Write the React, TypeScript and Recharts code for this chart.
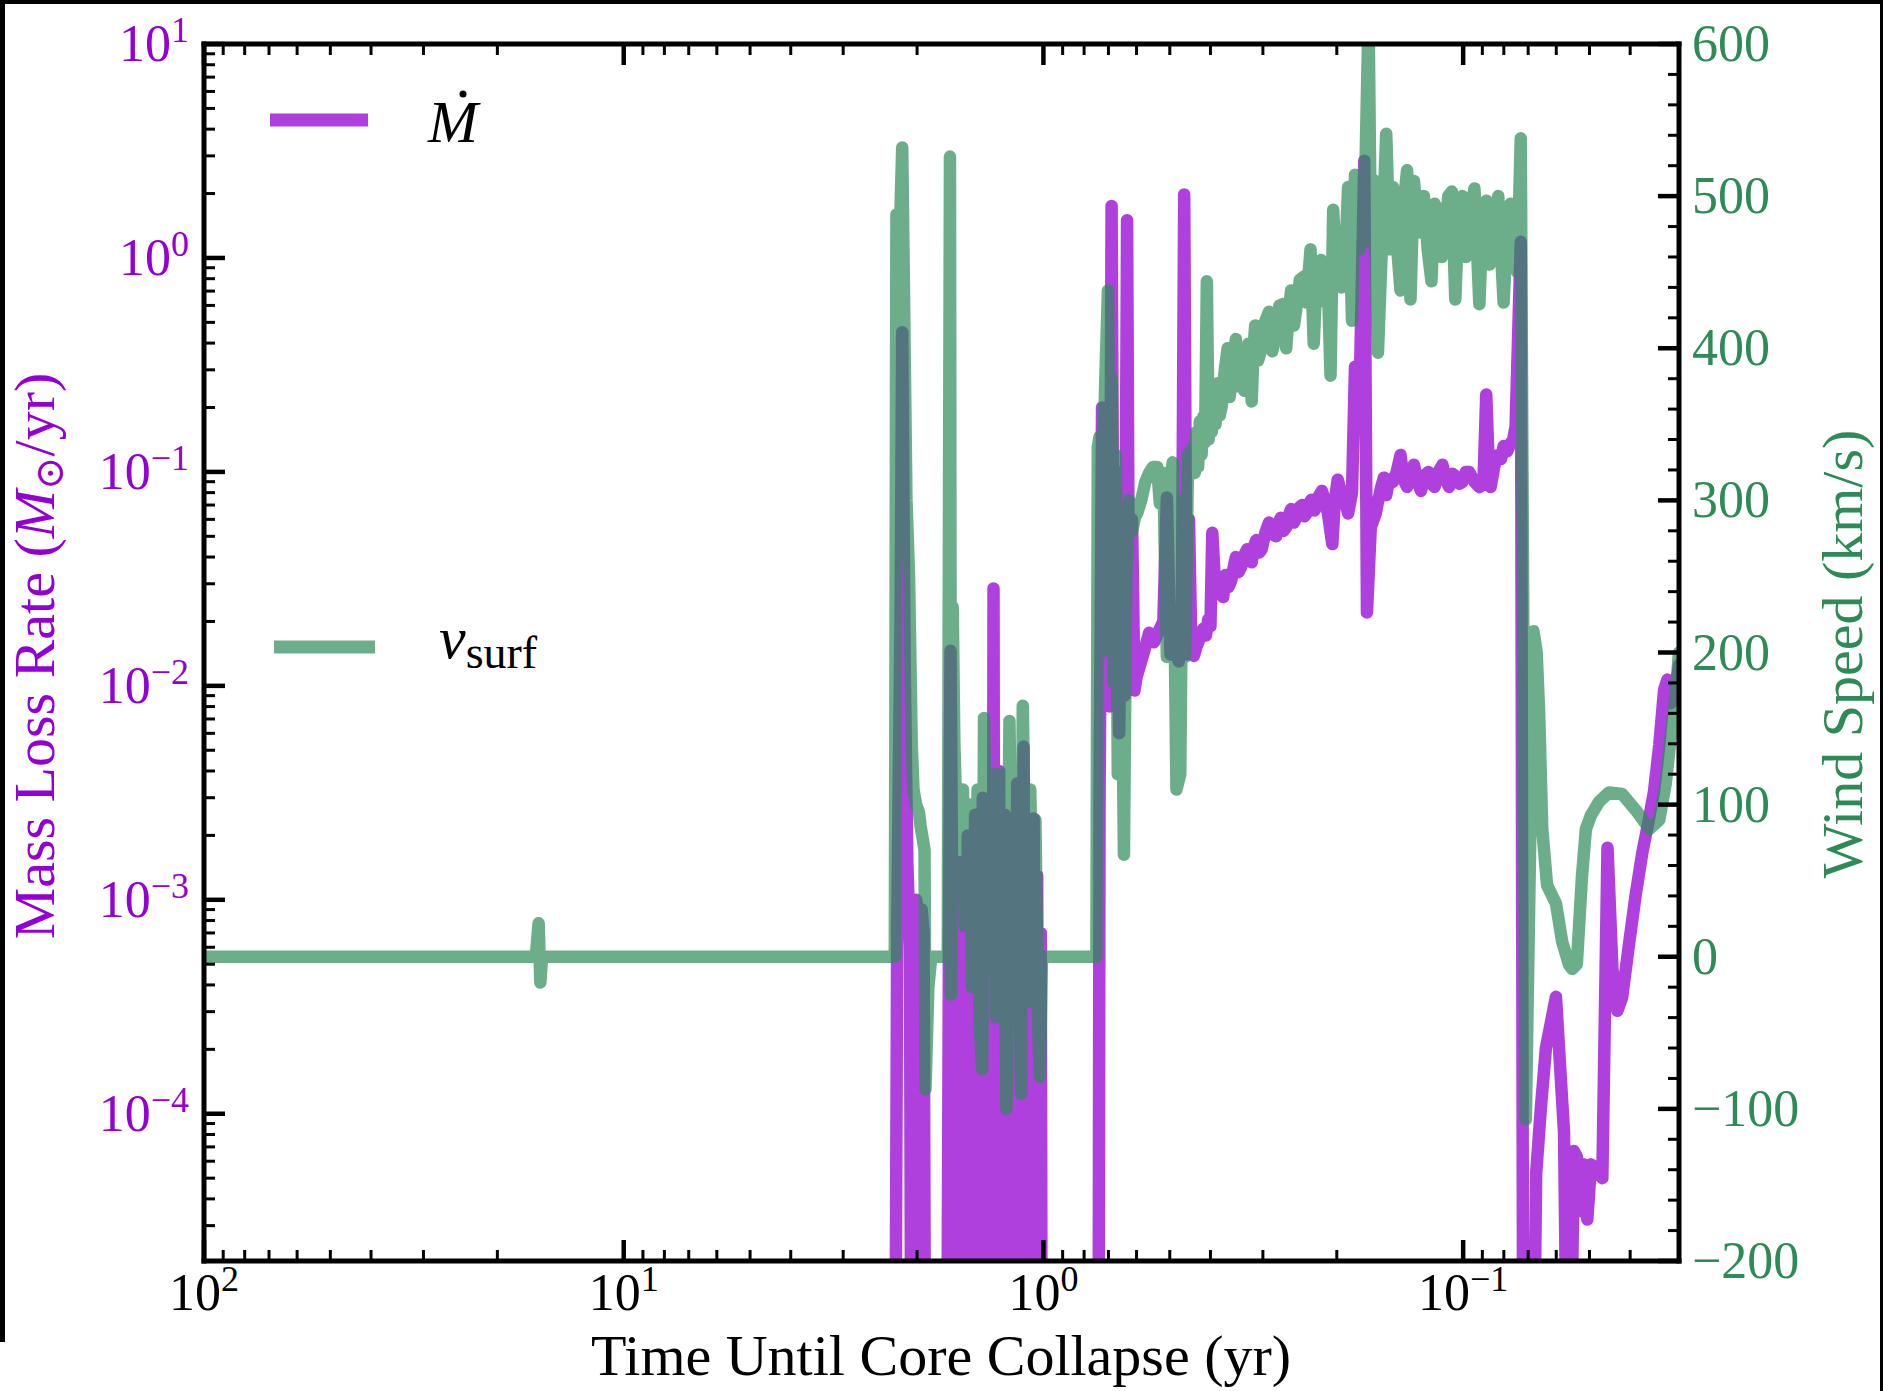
import React from 'react';
import { LineChart, Line, XAxis, YAxis } from 'recharts';

// [time until collapse (yr), wind speed (km/s)]
const windPoints: [number, number][] = [
  [100, 0], [16.2, 0], [15.95, 22], [15.8, -17], [15.65, 0],
  [2.26, 0], [2.24, 488], [2.2, 470], [2.17, 532], [2.12, 300], [2.09, 250], [2.06, 140], [2.04, 110],
  [2.01, 100], [1.98, 95], [1.96, 85], [1.94, 78], [1.92, 70], [1.91, -87], [1.88, -20], [1.85, 0],
  [1.69, 0], [1.67, 526], [1.66, -25], [1.645, 230], [1.63, 140], [1.615, 100], [1.6, 85], [1.585, 70], [1.57, 60],
  [1.555, 110], [1.54, 20], [1.525, 100], [1.51, 40], [1.495, 100], [1.48, -20], [1.465, 80], [1.45, 30],
  [1.435, 110], [1.42, -40], [1.4, -74], [1.385, 157], [1.37, 60], [1.355, -10], [1.34, 90], [1.325, 20],
  [1.31, 120], [1.295, -40], [1.28, 80], [1.27, 120], [1.255, 30], [1.24, 70], [1.225, -100], [1.205, 155],
  [1.19, 40], [1.175, -20], [1.16, 90], [1.145, 10], [1.13, -90], [1.12, 165], [1.105, 60], [1.09, -30],
  [1.075, 110], [1.06, 20], [1.045, 90], [1.03, -40], [1.02, -79], [1.008, 0],
  [0.748, 0], [0.742, 335], [0.735, 342], [0.728, 200], [0.72, 330], [0.712, 380], [0.702, 438], [0.695, 250],
  [0.688, 380], [0.68, 180], [0.672, 330], [0.665, 120], [0.655, 290], [0.643, 67], [0.635, 250], [0.625, 300],
  [0.615, 280], [0.605, 289], [0.597, 292], [0.585, 300], [0.572, 312], [0.56, 318], [0.548, 322], [0.536, 322],
  [0.528, 298], [0.518, 318], [0.508, 197], [0.5, 310], [0.492, 325], [0.482, 110], [0.472, 120], [0.466, 300],
  [0.46, 197], [0.452, 330], [0.44, 335], [0.436, 318], [0.432, 345], [0.428, 322], [0.424, 352], [0.42, 330],
  [0.416, 355], [0.412, 338], [0.408, 444], [0.404, 340], [0.401, 365], [0.397, 345], [0.393, 372], [0.389, 350],
  [0.385, 377], [0.38, 356], [0.376, 362], [0.37, 385], [0.364, 400], [0.36, 368], [0.357, 378], [0.352, 392],
  [0.348, 406], [0.343, 375], [0.338, 390], [0.332, 372], [0.325, 403], [0.322, 385], [0.319, 365], [0.316, 398],
  [0.313, 415], [0.308, 392], [0.302, 400], [0.296, 418], [0.29, 424], [0.285, 398], [0.279, 410], [0.274, 428],
  [0.269, 429], [0.264, 400], [0.26, 425], [0.257, 438], [0.253, 415], [0.25, 425], [0.245, 445], [0.24, 447],
  [0.236, 430], [0.233, 452], [0.231, 465], [0.227, 403], [0.224, 440], [0.221, 441], [0.218, 458], [0.215, 453],
  [0.212, 430], [0.21, 442], [0.207, 382], [0.204, 491], [0.201, 455], [0.199, 462], [0.195, 440], [0.191, 458],
  [0.188, 506], [0.186, 470], [0.184, 418], [0.181, 514], [0.178, 480], [0.176, 465], [0.174, 495], [0.172, 482],
  [0.168, 620], [0.166, 470], [0.164, 511], [0.162, 470], [0.1596, 397], [0.157, 450], [0.1553, 482], [0.1525, 541],
  [0.1496, 465], [0.148, 490], [0.147, 506], [0.144, 470], [0.141, 438], [0.138, 500], [0.136, 517], [0.1335, 432],
  [0.131, 510], [0.128, 480], [0.126, 476], [0.124, 500], [0.1215, 465], [0.119, 444], [0.117, 495], [0.1148, 491],
  [0.1125, 460], [0.1106, 474], [0.1085, 500], [0.1064, 503], [0.1044, 432], [0.1025, 490], [0.1005, 500],
  [0.0985, 460], [0.0968, 482], [0.094, 505], [0.0915, 429], [0.09, 480], [0.0881, 497], [0.0865, 455],
  [0.0848, 470], [0.0825, 500], [0.0801, 430], [0.0785, 480], [0.0771, 495], [0.0757, 470], [0.0743, 450],
  [0.0729, 538], [0.0709, -107],
  [0.068, 214], [0.0668, 200], [0.0659, 160], [0.0648, 84], [0.0631, 47], [0.0601, 35], [0.0581, 10],
  [0.056, -5], [0.055, -8], [0.0536, -5], [0.0521, 53], [0.051, 84], [0.0496, 93], [0.0474, 102], [0.0449, 108],
  [0.0418, 107], [0.0387, 96], [0.036, 84], [0.0341, 90], [0.0329, 114], [0.032, 145], [0.0311, 175], [0.0306, 200],
];

// [time until collapse (yr), mass loss rate (Msun/yr)]; 1e-6 = below the plotted range
const mdotPoints: [number, number][] = [
  [100, 1e-6], [2.26, 1e-6], [2.23, 0.0008], [2.19, 0.02], [2.17, 0.45], [2.14, 0.012], [2.11, 0.0015],
  [2.08, 0.0006], [2.06, 1e-6], [2.03, 1e-6], [2.01, 0.001], [1.98, 0.0008], [1.95, 0.0009], [1.93, 0.0007],
  [1.91, 1e-6], [1.7, 1e-6], [1.68, 0.0005], [1.665, 0.0146], [1.65, 0.0012], [1.63, 0.0008], [1.61, 1e-6],
  [1.59, 1e-6], [1.575, 0.0015], [1.56, 1e-6], [1.545, 0.0009], [1.53, 1e-6], [1.515, 0.002], [1.5, 1e-6],
  [1.485, 0.0012], [1.47, 1e-6], [1.455, 0.0025], [1.44, 1e-6], [1.425, 0.0008], [1.41, 1e-6], [1.395, 0.003],
  [1.38, 1e-6], [1.365, 0.0018], [1.35, 1e-6], [1.335, 0.0009], [1.325, 1e-6], [1.315, 0.0285], [1.305, 1e-6],
  [1.295, 0.002], [1.285, 1e-6], [1.275, 0.004], [1.265, 1e-6], [1.255, 0.0012], [1.245, 1e-6], [1.235, 0.0025],
  [1.225, 1e-6], [1.215, 0.0008], [1.205, 1e-6], [1.195, 0.0022], [1.185, 1e-6], [1.175, 0.0011], [1.165, 1e-6],
  [1.155, 0.0035], [1.145, 1e-6], [1.135, 0.0015], [1.125, 1e-6], [1.115, 0.0052], [1.105, 1e-6], [1.095, 0.0018],
  [1.085, 1e-6], [1.075, 0.0009], [1.065, 1e-6], [1.055, 0.0024], [1.045, 1e-6], [1.035, 0.0013], [1.025, 1e-6],
  [1.015, 0.0007], [1.008, 1e-6],
  [0.74, 1e-6], [0.735, 0.003], [0.725, 0.2], [0.715, 0.02], [0.705, 0.15], [0.695, 0.008], [0.688, 1.75],
  [0.68, 0.012], [0.67, 0.1], [0.66, 0.006], [0.65, 0.05], [0.64, 0.009], [0.632, 1.5], [0.625, 0.012],
  [0.615, 0.06], [0.607, 0.0095], [0.6, 0.011], [0.59, 0.0123], [0.575, 0.0146], [0.56, 0.0177], [0.545, 0.016],
  [0.53, 0.0182], [0.518, 0.02], [0.508, 0.076], [0.498, 0.014], [0.488, 0.016], [0.476, 0.013], [0.468, 0.02],
  [0.462, 1.98], [0.456, 0.014], [0.45, 0.06], [0.444, 0.0146], [0.438, 0.0138], [0.432, 0.0152], [0.425, 0.0165],
  [0.416, 0.0185], [0.41, 0.0172], [0.405, 0.0204], [0.4, 0.019], [0.396, 0.052], [0.389, 0.027], [0.384, 0.031],
  [0.378, 0.03], [0.373, 0.026], [0.368, 0.033], [0.362, 0.029], [0.357, 0.031], [0.352, 0.036], [0.348, 0.04],
  [0.343, 0.034], [0.338, 0.036], [0.332, 0.041], [0.327, 0.0435], [0.323, 0.039], [0.319, 0.0378], [0.315, 0.045],
  [0.311, 0.048], [0.306, 0.042], [0.302, 0.0435], [0.296, 0.052], [0.29, 0.058], [0.284, 0.051], [0.279, 0.05],
  [0.275, 0.058], [0.272, 0.061], [0.268, 0.053], [0.264, 0.055], [0.26, 0.063], [0.257, 0.067], [0.253, 0.058],
  [0.25, 0.061], [0.246, 0.068], [0.242, 0.07], [0.239, 0.062], [0.236, 0.064], [0.233, 0.071], [0.23, 0.074],
  [0.226, 0.066], [0.223, 0.07], [0.22, 0.078], [0.217, 0.0815], [0.213, 0.072], [0.21, 0.064], [0.205, 0.046],
  [0.202, 0.075], [0.199, 0.092], [0.196, 0.082], [0.193, 0.078], [0.19, 0.07], [0.188, 0.064], [0.184, 0.08],
  [0.181, 0.31], [0.176, 0.3], [0.172, 2.85], [0.1695, 0.022], [0.166, 0.055], [0.1615, 0.064], [0.159, 0.075],
  [0.1567, 0.085], [0.1545, 0.094], [0.1525, 0.078], [0.15, 0.092], [0.147, 0.0897], [0.144, 0.1], [0.141, 0.12],
  [0.1385, 0.092], [0.136, 0.085], [0.1335, 0.1], [0.131, 0.108], [0.1285, 0.09], [0.126, 0.0815], [0.1235, 0.096],
  [0.121, 0.1], [0.119, 0.088], [0.117, 0.085], [0.1145, 0.1], [0.112, 0.108], [0.11, 0.092], [0.108, 0.085],
  [0.106, 0.098], [0.104, 0.095], [0.102, 0.088], [0.1005, 0.0897], [0.0985, 0.1], [0.0968, 0.1], [0.094, 0.09],
  [0.0915, 0.085], [0.0895, 0.087], [0.0881, 0.23], [0.0868, 0.1], [0.086, 0.085], [0.084, 0.11], [0.0825, 0.12],
  [0.0812, 0.115], [0.0801, 0.132], [0.0785, 0.125], [0.0771, 0.136], [0.076, 0.142], [0.075, 0.163],
  [0.0729, 1.19], [0.0718, 1e-6], [0.0685, 1e-6], [0.067, 5.26e-5], [0.0653, 1.06e-4], [0.0635, 2.03e-4],
  [0.0601, 3.52e-4], [0.0575, 8.2e-5], [0.056, 1e-6], [0.0545, 6.7e-5], [0.0536, 6.3e-5], [0.0525, 3.5e-5],
  [0.0515, 5.8e-5], [0.0506, 3.2e-5], [0.0496, 5.8e-5], [0.0479, 5.5e-5], [0.0466, 5.0e-5], [0.0453, 1.75e-3],
  [0.0441, 4.77e-4], [0.0429, 3.03e-4], [0.0418, 3.5e-4], [0.0403, 6.1e-4], [0.0388, 1.06e-3], [0.0374, 1.67e-3],
  [0.0361, 2.37e-3], [0.0351, 3.2e-3], [0.0341, 5.27e-3], [0.0332, 9.6e-3], [0.0326, 0.0107], [0.032, 8.3e-3],
  [0.0312, 0.0095], [0.0306, 0.0125],
];

const timeMajorTicks = [100, 10, 1, 0.1];
const timeTickExponents = ['2', '1', '0', '\u22121'];
const timeMinorTicks = [
  90, 80, 70, 60, 50, 40, 30, 20, 9, 8, 7, 6, 5, 4, 3, 2,
  0.9, 0.8, 0.7, 0.6, 0.5, 0.4, 0.3, 0.2, 0.09, 0.08, 0.07, 0.06, 0.05, 0.04,
];
const mdotMajorTicks = [10, 1, 0.1, 0.01, 0.001, 0.0001];
const mdotTickExponents = ['1', '0', '\u22121', '\u22122', '\u22123', '\u22124'];
const mdotMinorTicks = [
  9, 8, 7, 6, 5, 4, 3, 2, 0.9, 0.8, 0.7, 0.6, 0.5, 0.4, 0.3, 0.2,
  0.09, 0.08, 0.07, 0.06, 0.05, 0.04, 0.03, 0.02, 0.009, 0.008, 0.007, 0.006, 0.005, 0.004, 0.003, 0.002,
  0.0009, 0.0008, 0.0007, 0.0006, 0.0005, 0.0004, 0.0003, 0.0002,
  0.00009, 0.00008, 0.00007, 0.00006, 0.00005, 0.00004, 0.00003,
];
const windMajorTicks = [-200, -100, 0, 100, 200, 300, 400, 500, 600];
const windTickLabels = ['\u2212200', '\u2212100', '0', '100', '200', '300', '400', '500', '600'];
const windMinorTicks = [
  -180, -160, -140, -120, -80, -60, -40, -20, 20, 40, 60, 80, 120, 140, 160, 180,
  220, 240, 260, 280, 320, 340, 360, 380, 420, 440, 460, 480, 520, 540, 560, 580,
];

const FONT = "'Liberation Serif', 'DejaVu Serif', 'Times New Roman', serif";
const PURPLE = '#9400D3';
const GREEN = '#2E8B57';
const W = 1883;
const H = 1391;
const MAJOR_LEN = 21;
const MINOR_LEN = 11;
const TICK_FONT = 52;
const SUP_FONT = 36;

const mdotData = mdotPoints.map(([t, m]) => ({ t, m }));
const windData = windPoints.map(([t, v]) => ({ t, v }));

function BottomTick({ x, y, payload }: any) {
  const i = timeMajorTicks.indexOf(payload.value);
  const major = i >= 0;
  return (
    <g>
      <line x1={x} x2={x} y1={y} y2={y - (major ? MAJOR_LEN : MINOR_LEN)} stroke="#000" strokeWidth={major ? 4.5 : 3} />
      {major && (
        <text x={x} y={y + 49} textAnchor="middle" fontFamily={FONT} fontSize={TICK_FONT} fill="#000">
          10<tspan dy={-19} fontSize={SUP_FONT}>{timeTickExponents[i]}</tspan>
        </text>
      )}
    </g>
  );
}

function TopTick({ x, y, payload }: any) {
  const major = timeMajorTicks.indexOf(payload.value) >= 0;
  return <line x1={x} x2={x} y1={y} y2={y + (major ? MAJOR_LEN : MINOR_LEN)} stroke="#000" strokeWidth={major ? 4.5 : 3} />;
}

function LeftTick({ x, y, payload }: any) {
  const i = mdotMajorTicks.indexOf(payload.value);
  const major = i >= 0;
  return (
    <g>
      <line x1={x} x2={x + (major ? MAJOR_LEN : MINOR_LEN)} y1={y} y2={y} stroke="#000" strokeWidth={major ? 4.5 : 3} />
      {major && (
        <text x={x - 15} y={y + 17} textAnchor="end" fontFamily={FONT} fontSize={TICK_FONT} fill={PURPLE}>
          10<tspan dy={-19} fontSize={SUP_FONT}>{mdotTickExponents[i]}</tspan>
        </text>
      )}
    </g>
  );
}

function RightTick({ x, y, payload }: any) {
  const i = windMajorTicks.indexOf(payload.value);
  const major = i >= 0;
  return (
    <g>
      <line x1={x} x2={x - (major ? MAJOR_LEN : MINOR_LEN)} y1={y} y2={y} stroke="#000" strokeWidth={major ? 4.5 : 3} />
      {major && (
        <text x={x + 13} y={y + 17} textAnchor="start" fontFamily={FONT} fontSize={TICK_FONT} fill={GREEN}>
          {windTickLabels[i]}
        </text>
      )}
    </g>
  );
}

const spine = { stroke: '#000', strokeWidth: 5, strokeLinecap: 'square' as const };

export default function App() {
  return (
    <div style={{ position: 'absolute', left: 0, top: 0, width: W, height: H, background: '#fff', overflow: 'hidden' }}>
      <div style={{ position: 'absolute', left: 0, top: 0, width: W, height: 4, background: '#000' }} />
      <div style={{ position: 'absolute', left: 0, top: 0, width: 5, height: 1342, background: '#000' }} />
      <div style={{ position: 'absolute', right: 0, top: 0, width: 3, height: H, background: '#000' }} />
      <LineChart width={W} height={H} margin={{ top: 43, right: 203, bottom: 129, left: 203 }}>
        <XAxis
          xAxisId="time" dataKey="t" type="number" scale="log" domain={[0.0306, 100]} reversed allowDataOverflow
          ticks={[...timeMajorTicks, ...timeMinorTicks]} interval={0} height={1} tickSize={0} tickMargin={0}
          tickLine={false} axisLine={spine} tick={<BottomTick />}
        />
        <XAxis
          xAxisId="top" orientation="top" dataKey="t" type="number" scale="log" domain={[0.0306, 100]} reversed allowDataOverflow
          ticks={[...timeMajorTicks, ...timeMinorTicks]} interval={0} height={1} tickSize={0} tickMargin={0}
          tickLine={false} axisLine={spine} tick={<TopTick />}
        />
        <YAxis
          yAxisId="mdot" type="number" scale="log" domain={[2.05e-5, 10]} allowDataOverflow
          ticks={[...mdotMajorTicks, ...mdotMinorTicks]} interval={0} width={1} tickSize={0} tickMargin={0}
          tickLine={false} axisLine={spine} tick={<LeftTick />}
        />
        <YAxis
          yAxisId="wind" orientation="right" type="number" domain={[-200, 600]} allowDataOverflow
          ticks={[...windMajorTicks, ...windMinorTicks]} interval={0} width={1} tickSize={0} tickMargin={0}
          tickLine={false} axisLine={spine} tick={<RightTick />}
        />
        <Line
          xAxisId="time" yAxisId="mdot" data={mdotData} dataKey="m" type="linear"
          stroke={PURPLE} strokeOpacity={0.75} strokeWidth={12.5} strokeLinejoin="round" strokeLinecap="round"
          dot={false} activeDot={false} isAnimationActive={false}
        />
        <Line
          xAxisId="time" yAxisId="wind" data={windData} dataKey="v" type="linear"
          stroke={GREEN} strokeOpacity={0.7} strokeWidth={12.5} strokeLinejoin="round" strokeLinecap="round"
          dot={false} activeDot={false} isAnimationActive={false}
        />
      </LineChart>
      <svg width={W} height={H} style={{ position: 'absolute', left: 0, top: 0, pointerEvents: 'none' }} fontFamily={FONT}>
        <text x={941} y={1375} textAnchor="middle" fontSize={58} fill="#000">Time Until Core Collapse (yr)</text>
        <text transform="translate(54,656) rotate(-90)" textAnchor="middle" fontSize={58} fill={PURPLE}>
          Mass Loss Rate (<tspan fontStyle="italic">M</tspan>
          <tspan fontSize={40} dy={9}>{'\u2299'}</tspan>
          <tspan dy={-9}>/yr)</tspan>
        </text>
        <text transform="translate(1862,654) rotate(-90)" textAnchor="middle" fontSize={58} fill={GREEN}>
          Wind Speed (km/s)
        </text>
        <line x1={270} x2={368} y1={120} y2={120} stroke={PURPLE} strokeOpacity={0.75} strokeWidth={13} />
        <text x={428} y={142} fontSize={60} fontStyle="italic" fill="#000">M</text>
        <circle cx={463} cy={94} r={3.5} fill="#000" />
        <line x1={274} x2={375} y1={647} y2={647} stroke={GREEN} strokeOpacity={0.7} strokeWidth={13} />
        <text x={439} y={658} fontSize={60} fill="#000">
          <tspan fontStyle="italic">v</tspan>
          <tspan fontSize={46} dy={10}>surf</tspan>
        </text>
      </svg>
    </div>
  );
}
